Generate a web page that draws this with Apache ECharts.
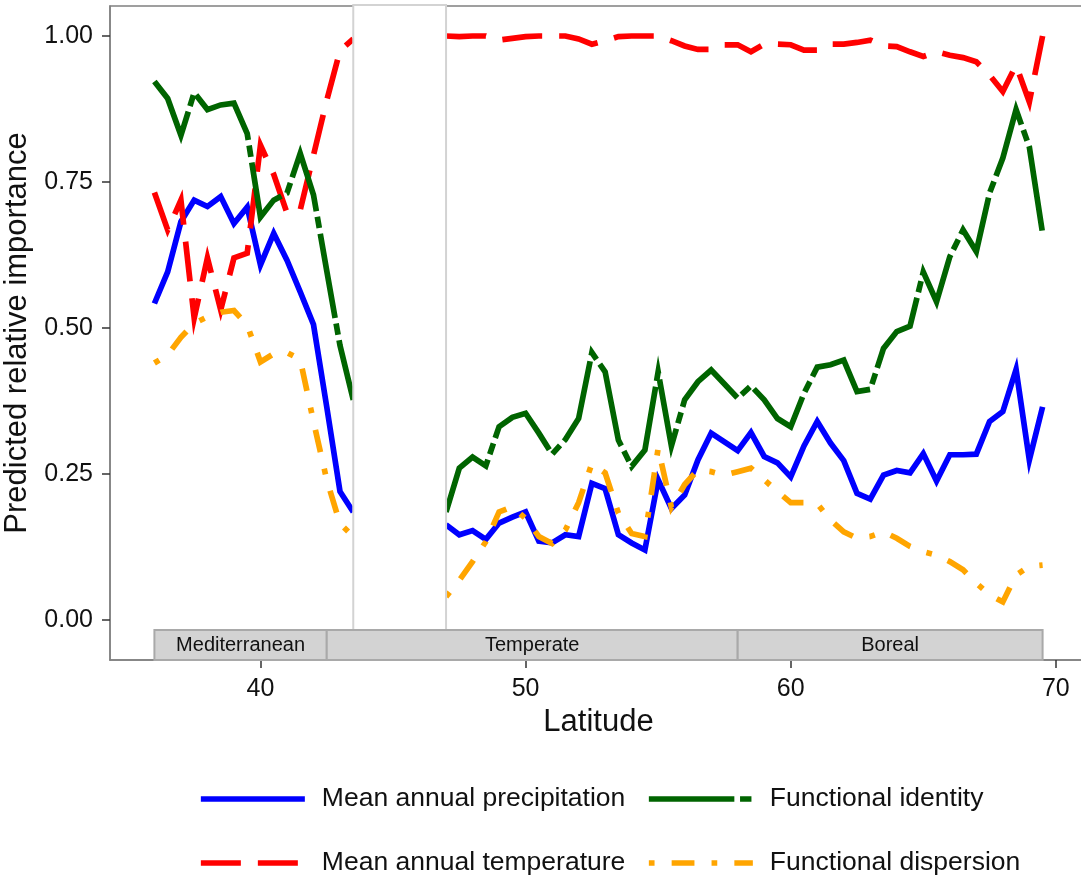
<!DOCTYPE html>
<html><head><meta charset="utf-8">
<script src="https://cdn.jsdelivr.net/npm/echarts@6/dist/echarts.min.js"></script>
<style>html,body{margin:0;padding:0;background:#fff}#c{width:1081px;height:884px}</style>
</head><body><div id="c"></div>
<script>
// ---- data ----
const latitudes = [36,36.5,37,37.5,38,38.5,39,39.5,40,40.5,41,41.5,42,42.5,43,43.5,
  44,44.5,45,45.5,46,46.5,
  47,47.5,48,48.5,49,49.5,50,50.5,51,51.5,52,52.5,53,53.5,54,54.5,55,55.5,56,56.5,57,57.5,58,58.5,
  59,59.5,60,60.5,61,61.5,62,62.5,63,63.5,64,64.5,65,65.5,66,66.5,67,67.5,68,68.5,69,69.5];

const precipitation = [0.542,0.596,0.682,0.719,0.708,0.725,0.679,0.707,0.608,0.662,0.616,0.562,0.506,0.365,0.220,0.185,
  null,null,null,null,null,null,
  0.163,0.146,0.153,0.138,0.166,0.176,0.185,0.135,0.132,0.146,0.143,0.234,0.225,0.146,0.132,0.120,0.240,0.191,0.214,0.274,0.320,0.305,0.290,0.321,
  0.280,0.269,0.245,0.298,0.340,0.303,0.273,0.217,0.207,0.248,0.256,0.252,0.285,0.238,0.283,0.283,0.284,0.340,0.357,0.429,0.274,0.365];

const temperature = [0.732,0.668,0.719,0.517,0.620,0.531,0.620,0.628,0.813,0.763,0.697,0.702,0.796,0.890,0.975,0.995,
  null,null,null,null,null,null,
  1.000,0.999,1.000,1.000,0.993,0.996,0.999,1.000,1.000,1.000,0.995,0.986,0.992,0.999,1.000,1.000,1.000,0.992,0.983,0.977,0.977,0.985,0.985,0.973,
  0.986,0.986,0.985,0.976,0.976,0.986,0.986,0.989,0.993,0.983,0.982,0.973,0.965,0.973,0.967,0.963,0.956,0.933,0.905,0.950,0.887,1.000];

const identity = [0.922,0.893,0.830,0.903,0.874,0.882,0.885,0.833,0.690,0.719,0.731,0.799,0.728,0.598,0.470,0.377,
  null,null,null,null,null,null,
  0.185,0.260,0.279,0.264,0.331,0.347,0.354,0.320,0.284,0.309,0.345,0.458,0.425,0.308,0.263,0.291,0.425,0.298,0.377,0.408,0.428,0.404,0.380,0.401,
  0.377,0.345,0.331,0.388,0.433,0.437,0.445,0.391,0.395,0.465,0.494,0.503,0.596,0.545,0.622,0.668,0.631,0.731,0.791,0.874,0.810,0.662];

const dispersion = [0.440,0.454,0.484,0.508,0.519,0.527,0.530,0.505,0.442,0.456,0.458,0.446,0.340,0.240,0.165,0.143,
  null,null,null,null,null,null,
  0.040,0.068,0.100,0.134,0.185,0.194,0.174,0.143,0.131,0.154,0.201,0.268,0.252,0.183,0.148,0.143,0.294,0.193,0.232,0.257,0.254,0.248,0.254,0.260,
  0.240,0.220,0.201,0.201,0.199,0.171,0.151,0.140,0.143,0.151,0.140,0.126,0.117,0.111,0.100,0.086,0.063,0.043,0.031,0.077,0.092,0.094];

const seriesNames = ['Mean annual precipitation','Mean annual temperature','Functional identity','Functional dispersion'];
const zoneNames = ['Mediterranean','Temperate','Boreal'];
const zoneStart = [36, 42.5, 58];
const zoneEnd = [42.5, 58, 69.5];
const gapStart = 43.5, gapEnd = 47;
const yTicks = [0, 0.25, 0.5, 0.75, 1];
const xTicks = [40, 50, 60, 70];

// ---- layout / style ----
const X_MIN = 34.325, X_MAX = 71.175;
const Y_MIN = -0.0685, Y_MAX = 1.0514;
const STRIP_TOP = -0.0171;
const FONT = '"Liberation Sans", Arial, sans-serif';
const LW = 5.7;
const colors = ['#0000ff', '#ff0000', '#006400', '#ffa500'];
const dashes = ['solid', [40, 17], [85.5, 5.7, 11.4, 5.7], [5.7, 17.1, 22.8, 17.1]];
const values = [precipitation, temperature, identity, dispersion];

const chart = echarts.init(document.getElementById('c'), null, {renderer: 'canvas'});

const lineSeries = seriesNames.map((name, k) => ({
  type: 'line', name, z: 2 + k,
  data: latitudes.map((x, i) => [x, values[k][i]]),
  symbol: 'none', showSymbol: false, connectNulls: false,
  lineStyle: {color: colors[k], width: LW, type: dashes[k], cap: 'butt', join: 'miter'},
  itemStyle: {color: colors[k]},
  emphasis: {disabled: true}, silent: true
}));

const legendPos = [[198, 784], [198, 848], [646, 784], [646, 848]];
const legends = seriesNames.map((name, k) => ({
  data: [name], left: legendPos[k][0], top: legendPos[k][1],
  padding: 0, itemGap: 0, itemWidth: 104, itemHeight: 30,
  itemStyle: {opacity: 0},
  lineStyle: {width: LW, type: dashes[k], color: colors[k], cap: 'butt'},
  textStyle: {fontSize: 26.5, fontFamily: FONT, color: '#111', lineHeight: 30, padding: [0, 0, 0, 12]},
  selectedMode: false
}));

chart.setOption({
  animation: false,
  backgroundColor: '#fff',
  legend: legends,
  grid: {left: 110, top: 6, right: -6, bottom: 224, show: true, borderColor: '#808080', borderWidth: 1.5, outerBoundsMode: 'none'},
  xAxis: {
    type: 'value', min: X_MIN, max: X_MAX,
    axisLine: {show: true, onZero: false, lineStyle: {color: '#808080', width: 1.5}},
    axisTick: {show: true, length: 8, customValues: xTicks, lineStyle: {color: '#333', width: 1.5}},
    axisLabel: {customValues: xTicks, fontSize: 25, fontFamily: FONT, color: '#111', margin: 17},
    splitLine: {show: false},
    name: 'Latitude', nameLocation: 'middle', nameGap: 40,
    nameTextStyle: {fontSize: 31, fontFamily: FONT, color: '#111'}
  },
  yAxis: {
    type: 'value', min: Y_MIN, max: Y_MAX,
    axisLine: {show: true, onZero: false, lineStyle: {color: '#808080', width: 1.5}},
    axisTick: {show: true, length: 8, customValues: yTicks, lineStyle: {color: '#333', width: 1.5}},
    axisLabel: {customValues: yTicks, formatter: v => v.toFixed(2), fontSize: 25, fontFamily: FONT, color: '#111', margin: 17},
    splitLine: {show: false},
    name: 'Predicted relative importance', nameLocation: 'middle', nameGap: 63,
    nameTextStyle: {fontSize: 31, fontFamily: FONT, color: '#111'}
  },
  series: [
    ...lineSeries,
    {
      type: 'custom', name: 'gap', z: 20, silent: true,
      data: [[gapStart, gapEnd]],
      renderItem: (params, api) => {
        const p0 = api.coord([gapStart, Y_MAX]);
        const p1 = api.coord([gapEnd, STRIP_TOP]);
        return {type: 'rect', shape: {x: p0[0], y: p0[1] - 1, width: p1[0] - p0[0], height: p1[1] - p0[1] + 1},
          style: {fill: '#ffffff', stroke: '#d3d3d3', lineWidth: 2}};
      }
    },
    {
      type: 'custom', name: 'zones', z: 21, silent: true,
      data: zoneNames.map((n, i) => [zoneStart[i], zoneEnd[i]]),
      renderItem: (params, api) => {
        const i = params.dataIndex;
        const p0 = api.coord([zoneStart[i], STRIP_TOP]);
        const p1 = api.coord([zoneEnd[i], Y_MIN]);
        return {type: 'group', children: [
          {type: 'rect', shape: {x: p0[0], y: p0[1], width: p1[0] - p0[0], height: p1[1] - p0[1]},
            style: {fill: '#d3d3d3', stroke: '#a9a9a9', lineWidth: 2}},
          {type: 'text', style: {text: zoneNames[i], x: (p0[0] + p1[0]) / 2, y: (p0[1] + p1[1]) / 2,
            align: 'center', verticalAlign: 'middle', fontSize: 20, fontFamily: FONT, fill: '#111'}}
        ]};
      }
    }
  ]
});
</script></body></html>
